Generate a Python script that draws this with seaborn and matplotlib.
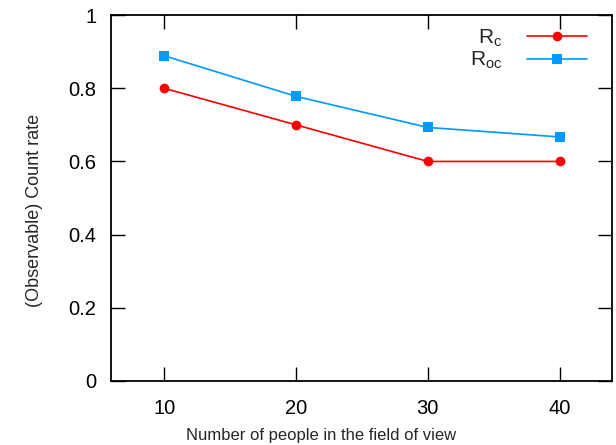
import pandas as pd
import matplotlib
matplotlib.use('Agg')
import matplotlib.pyplot as plt
import seaborn as sns

# datos
people = [10, 20, 30, 40]
r_c = [0.8, 0.7, 0.6, 0.6]
r_oc = [0.889, 0.778, 0.693, 0.667]

df = pd.DataFrame({
    'people': people * 2,
    'rate': r_c + r_oc,
    'serie': ['$\\mathregular{R_c}$'] * 4 + ['$\\mathregular{R_{oc}}$'] * 4,
})

sns.set_style('ticks')
plt.rcParams['font.family'] = ['Liberation Sans', 'DejaVu Sans']
plt.rcParams['mathtext.fontset'] = 'custom'
plt.rcParams['mathtext.rm'] = 'Liberation Sans'

fig, ax = plt.subplots(figsize=(6.16, 4.45), dpi=100)
sns.lineplot(data=df, x='people', y='rate', hue='serie', style='serie',
             markers=['o', 's'], dashes=False, markersize=7, linewidth=1.2,
             markeredgewidth=0,
             palette=['#ff0000', '#0099ff'], ax=ax)

ax.set_xlim(6, 44)
ax.set_ylim(0, 1)
ax.set_xticks(people)
ax.set_yticks([0, 0.2, 0.4, 0.6, 0.8, 1])
ax.set_yticklabels(['0', '0.2', '0.4', '0.6', '0.8', '1'])
ax.tick_params(direction='in', length=10, width=1, top=True, right=True,
               labelsize=14.5, colors='black')
ax.tick_params(axis='x', pad=13)
ax.tick_params(axis='y', pad=11)
for s in ax.spines.values():
    s.set_linewidth(1.3)
    s.set_color('black')
ax.set_xlabel('Number of people in the field of view', fontsize=12, labelpad=7, x=0.418)
ax.set_ylabel('(Observable) Count rate', fontsize=13, labelpad=18, y=0.467)

leg = ax.legend(loc='upper right', frameon=False, markerfirst=False,
                fontsize=15, handlelength=2.9, handletextpad=1.2,
                labelspacing=0.05, borderaxespad=0.2,
                bbox_to_anchor=(0.975, 1.0), title=None)
for t in leg.get_texts():
    t.set_ha('right')

fig.subplots_adjust(left=0.181, right=0.994, top=0.966, bottom=0.144)
plt.savefig('out.png', dpi=100)
